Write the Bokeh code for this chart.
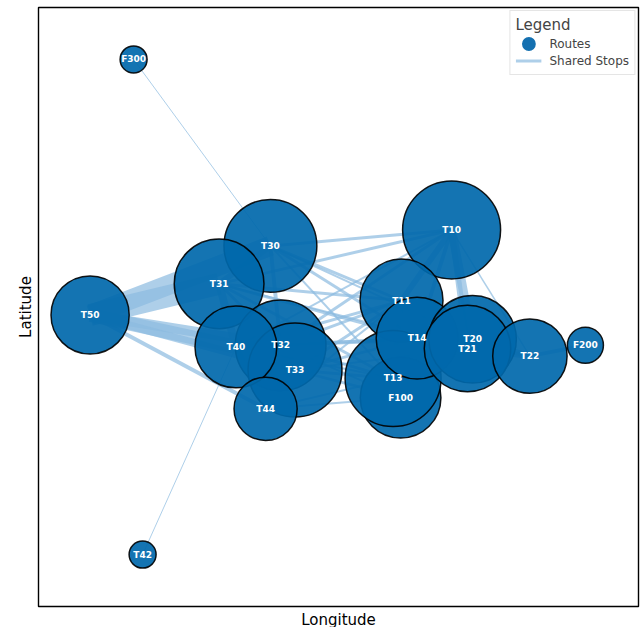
import math

from bokeh.core.properties import value
from bokeh.embed import file_html
from bokeh.models import ColumnDataSource, FixedTicker, Legend, LegendItem, Range1d
from bokeh.plotting import figure
from bokeh.resources import INLINE

# Route nodes (drawn in this order, later ones on top)
routes = ["F300", "T42", "T50", "T30", "T31", "T32", "T33", "T40", "T44",
          "T10", "T11", "F100", "T13", "T14", "T20", "T21", "T22", "F200"]
lon = [13.3317, 13.3347, 13.3172, 13.3773, 13.3602, 13.3807, 13.3855, 13.3658, 13.3757,
       13.4377, 13.4210, 13.4207, 13.4182, 13.4262, 13.4447, 13.4430, 13.4638, 13.4823]
lat = [52.5870, 52.4630, 52.5230, 52.5403, 52.5308, 52.5154, 52.5092, 52.5150, 52.4995,
       52.5443, 52.5266, 52.5023, 52.5071, 52.5172, 52.5169, 52.5146, 52.5127, 52.5154]
stops = [4, 4, 32, 45, 42, 43, 46, 35, 21,
         50, 36, 34, 48, 35, 40, 39, 29, 7]

# Route pairs and the number of stops they share
edge_from = [
    "T50", "T50", "T50", "T50", "T50", "T50",
    "T30", "T31", "T30", "T32", "T40", "T33", "T40", "T31",
    "T30", "T31", "T30", "T30", "T30", "T30", "T31", "T31", "T31", "T31",
    "T32", "T32", "T32", "T32", "T32", "T32", "T33", "T33", "T33", "T33", "T33",
    "T40", "T40", "T40", "T40", "T44", "T44", "T44",
    "T10", "T10", "T10", "T10", "T10", "T11", "T11", "T13", "T13", "T14", "T14",
    "T20", "T20", "T21", "T22",
    "F300", "T42",
]
edge_to = [
    "T30", "T31", "T32", "T40", "T33", "T44",
    "T31", "T40", "T32", "T33", "T44", "T44", "T32", "T32",
    "T10", "T10", "T11", "T14", "T13", "T20", "T11", "T14", "T13", "T21",
    "T10", "T11", "T14", "T13", "F100", "T20", "T11", "T13", "F100", "T14", "T21",
    "T11", "T14", "T13", "T10", "T13", "F100", "T11",
    "T11", "T14", "T20", "T21", "T22", "T14", "T13", "F100", "T14", "T20", "T21",
    "T21", "T22", "T22", "F200",
    "T30", "T40",
]
shared = [
    20, 22, 10, 14, 8, 4,
    6, 8, 4, 10, 6, 4, 6, 3,
    3, 3, 3, 3, 2, 2, 3, 3, 3, 2,
    3, 3, 3, 3, 2, 2, 3, 3, 3, 3, 2,
    3, 3, 2, 2, 2, 2, 2,
    6, 4, 9, 6, 1.5, 8, 5, 10, 6, 6, 6,
    12, 6, 6, 4,
    1, 1,
]

NODE_COLOR = "#0068ab"
EDGE_COLOR = "#8cbbe0"
EDGE_ALPHA = 0.7
FONT = "DejaVu Sans"

pos = {r: (x, y) for r, x, y in zip(routes, lon, lat)}
edge_src = ColumnDataSource(dict(
    xs=[[pos[a][0], pos[b][0]] for a, b in zip(edge_from, edge_to)],
    ys=[[pos[a][1], pos[b][1]] for a, b in zip(edge_from, edge_to)],
    w=[float(s) for s in shared],
))
node_src = ColumnDataSource(dict(
    x=lon, y=lat, name=routes,
    size=[14 * math.sqrt(s) - 1 for s in stops],
))

p = figure(
    frame_width=600, frame_height=599,
    min_border_left=38, min_border_right=2, min_border_top=7, min_border_bottom=21,
    x_range=Range1d(13.30, 13.50), y_range=Range1d(52.45, 52.60),
    output_backend="svg", toolbar_location=None,
)
p.grid.visible = False
p.outline_line_color = "black"
p.outline_line_width = 1.4
p.background_fill_color = "white"
p.border_fill_color = "white"

for ax, label in ((p.xaxis, "Longitude"), (p.yaxis, "Latitude")):
    ax.ticker = FixedTicker(ticks=[])
    ax.axis_line_color = None
    ax.major_tick_line_color = None
    ax.minor_tick_line_color = None
    ax.major_tick_out = 0
    ax.major_tick_in = 0
    ax.major_label_standoff = 0
    ax.major_label_text_font_size = "0px"
    ax.axis_label = label
    ax.axis_label_text_font = FONT
    ax.axis_label_text_font_size = "15px"
    ax.axis_label_text_font_style = "normal"
    ax.axis_label_text_color = "black"
    ax.axis_label_standoff = 4

# shared-stop links
p.multi_line(xs="xs", ys="ys", line_width="w", source=edge_src,
             line_color=EDGE_COLOR, line_alpha=EDGE_ALPHA)

# routes
p.scatter(x="x", y="y", size="size", source=node_src,
          fill_color=NODE_COLOR, fill_alpha=0.92,
          line_color="black", line_alpha=0.9, line_width=1.5)

p.text(x="x", y="y", text="name", source=node_src,
       text_color="white", text_font=value(FONT), text_font_style="bold",
       text_font_size="9px", text_align="center", text_baseline="middle")

# legend samples: a small dot with a thick same-colour rim reads as a larger dot
nan = float("nan")
leg_node = p.scatter(x=[nan], y=[nan], size=7, fill_color="#1470b0",
                     line_color="#1470b0", line_width=7)
leg_edge = p.line(x=[nan, nan], y=[nan, nan], line_color=EDGE_COLOR,
                  line_alpha=EDGE_ALPHA, line_width=3)

legend = Legend(
    items=[LegendItem(label="Routes", renderers=[leg_node]),
           LegendItem(label="Shared Stops", renderers=[leg_edge])],
    title="Legend",
    location="top_right",
    margin=3, padding=5, spacing=0,
    glyph_width=26, glyph_height=17, label_height=17, label_standoff=8,
    title_standoff=1,
    title_text_font=FONT, title_text_font_size="15px", title_text_font_style="normal",
    label_text_font=FONT, label_text_font_size="12px",
    border_line_color="#cccccc", border_line_width=1,
    background_fill_color="white", background_fill_alpha=0.8,
)
p.add_layout(legend)

open("out.html", "w").write(file_html(p, INLINE))
